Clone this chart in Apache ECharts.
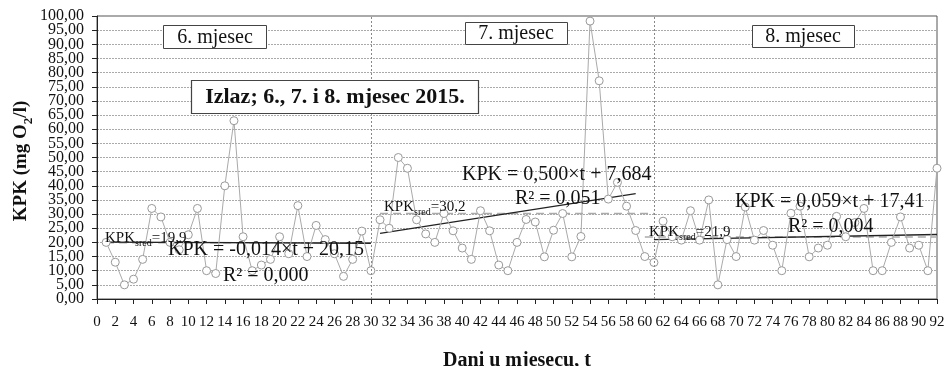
<!DOCTYPE html>
<html><head><meta charset="utf-8">
<script src="https://cdn.jsdelivr.net/npm/echarts@6/dist/echarts.min.js"></script>
<style>html,body{margin:0;padding:0;background:#fff}#c{width:944px;height:366px}</style>
</head><body><div id="c"></div>
<script>
// ---- data ----
const juneStart = 1;
const juneValues = [20, 13, 5, 7, 14, 32, 29, 20, 17.4, 22.7, 32, 10, 9, 40, 63, 22, 10, 12, 14, 22, 16, 33, 15, 26, 21, 16, 8, 14, 24, 10];
const julyStart = 31;
const julyValues = [28, 25, 50, 46.2, 28, 23, 20, 30.2, 24.1, 18, 14, 31.2, 24.1, 12, 10, 20, 28.1, 27.2, 14.9, 24.3, 30.2, 14.9, 22.1, 98.2, 77.1, 35.3, 41.2, 32.8, 24.2, 15, 12.9];
const augStart = 62;
const augValues = [27.5, 22, 20.8, 31.2, 20.8, 35, 5, 21, 15, 32.5, 20.8, 24.2, 19, 10, 30.3, 32.8, 14.9, 18, 19, 29.2, 22, 27, 32, 10, 10, 20, 29, 18, 19, 10, 46.2];
// trend line end points (day, KPK)
const juneTrend = [[1, 20.1], [30, 19.7]];
const julyTrend = [[31, 23.2], [59, 37.2]];
const augTrend = [[61, 21.0], [92, 22.8]];
// monthly mean lines (from, to, value)
const juneMean = [1, 30, 19.9];
const julyMean = [31, 61, 30.2];
const augMean = [60, 92, 21.9];
// month separators
const separators = [30, 61];
const xMin = 0, xMax = 92, xStep = 2;
const yMin = 0, yMax = 100, yStep = 5;

const FONT = '"Liberation Serif", "Times New Roman", serif';
function toPts(start, vals){ return vals.map((v,i)=>[start+i, v]); }
const allPts = toPts(juneStart, juneValues).concat(toPts(julyStart, julyValues), toPts(augStart, augValues));
function meanLine(m){ return [[m[0], m[2]], [m[1], m[2]]]; }

const chart = echarts.init(document.getElementById('c'));
const lineSeries = (data, color, width, type) => ({
  type: 'line', data, symbol: 'none', silent: true, z: 3,
  lineStyle: {color, width, type}
});
const textEl = (x, y, text, size, bold, align) => ({
  type: 'text', x, y, z: 100,
  style: {text, font: (bold ? 'bold ' : '') + size + 'px ' + FONT, fill: '#111', align: align || 'left', verticalAlign: 'middle'}
});
const boxEl = (x, y, w, h, lw) => ({
  type: 'rect', shape: {x, y, width: w, height: h}, z: 99,
  style: {fill: '#fff', stroke: '#444', lineWidth: lw || 1}
});
const subEl = (x, y, a, s, b) => ({
  type: 'text', x, y, z: 100,
  style: {
    text: '{a|' + a + '}{s|' + s + '}{a|' + b + '}', verticalAlign: 'middle',
    rich: {
      a: {font: '15px ' + FONT, fill: '#111', lineHeight: 18, verticalAlign: 'bottom'},
      s: {font: '10px ' + FONT, fill: '#111', lineHeight: 18, verticalAlign: 'bottom', padding: [0,0,-2,0]}
    }
  }
});
const yLabelFmt = v => v.toFixed(2).replace('.', ',');
const yLabelStyle = {fontFamily: FONT, fontSize: 16, color: '#111', margin: 13, hideOverlap: false, formatter: yLabelFmt};

chart.setOption({
  animation: false,
  backgroundColor: '#fff',
  grid: {left: 97, right: 7, top: 16, bottom: 67, show: true, borderColor: '#555', borderWidth: 1,
    outerBoundsMode: 'none', containLabel: false},
  xAxis: {
    type: 'value', min: xMin, max: xMax, interval: xStep,
    name: 'Dani u mjesecu, t', nameLocation: 'middle', nameGap: 52,
    nameTextStyle: {fontFamily: FONT, fontSize: 20, fontWeight: 'bold', color: '#111'},
    axisLine: {lineStyle: {color: '#222', width: 1}},
    axisTick: {show: true, length: 5, lineStyle: {color: '#222'}},
    axisLabel: {fontFamily: FONT, fontSize: 15, color: '#111', margin: 16, hideOverlap: false,
      showMinLabel: true, showMaxLabel: true},
    splitLine: {show: false}
  },
  yAxis: [{
    type: 'value', min: yMin, max: yMax, interval: yStep, position: 'left',
    axisLine: {show: true, lineStyle: {color: '#222', width: 1}},
    axisTick: {show: true, length: 5, lineStyle: {color: '#222'}},
    axisLabel: Object.assign({showMinLabel: false, showMaxLabel: false}, yLabelStyle),
    splitLine: {show: true, lineStyle: {color: '#aaa', width: 1, type: [2, 1]}}
  }, {
    type: 'value', min: yMin, max: yMax, interval: yMax - yMin, position: 'left', offset: 0,
    axisLine: {show: false},
    axisTick: {show: true, length: 5, lineStyle: {color: '#222'}},
    axisLabel: Object.assign({showMinLabel: true, showMaxLabel: true}, yLabelStyle),
    splitLine: {show: false}
  }],
  series: [
    lineSeries(meanLine(juneMean), '#aaa', 1.5, [8, 5]),
    lineSeries(meanLine(julyMean), '#aaa', 1.5, [8, 5]),
    lineSeries(meanLine(augMean), '#aaa', 1.5, [8, 5]),
    {
      type: 'line', data: allPts, z: 4, silent: true,
      symbol: 'circle', symbolSize: 8,
      itemStyle: {color: '#fff', borderColor: '#999', borderWidth: 1},
      lineStyle: {color: '#aaa', width: 1},
      markLine: {
        silent: true, symbol: 'none', label: {show: false},
        lineStyle: {color: '#888', type: [2, 2], width: 1},
        data: separators.map(s => ({xAxis: s}))
      }
    },
    lineSeries(juneTrend, '#222', 1.3, 'solid'),
    lineSeries(julyTrend, '#222', 1.3, 'solid'),
    lineSeries(augTrend, '#222', 1.3, 'solid')
  ],
  graphic: [
    boxEl(163.5, 25.5, 103, 23), textEl(215, 37.5, '6. mjesec', 20, false, 'center'),
    boxEl(465.5, 22.5, 102, 22), textEl(516, 34, '7. mjesec', 20, false, 'center'),
    boxEl(752.5, 25.5, 102, 22), textEl(803, 37, '8. mjesec', 20, false, 'center'),
    boxEl(191.5, 80.5, 287, 33, 1.2), textEl(335, 97.5, 'Izlaz; 6., 7. i 8. mjesec 2015.', 22, true, 'center'),
    subEl(105, 237, 'KPK', 'sred', '=19,9'),
    textEl(168, 250, 'KPK = -0,014×t + 20,15', 20),
    textEl(223, 276, 'R² = 0,000', 20),
    subEl(384, 206, 'KPK', 'sred', '=30,2'),
    textEl(462, 175, 'KPK = 0,500×t + 7,684', 20),
    textEl(515, 199, 'R² = 0,051', 20),
    subEl(649, 231, 'KPK', 'sred', '=21,9'),
    textEl(735, 202, 'KPK = 0,059×t + 17,41', 20),
    textEl(788, 227, 'R² = 0,004', 20),
    {
      type: 'text', x: 20, y: 161, rotation: Math.PI / 2, z: 100,
      style: {
        text: '{a|KPK (mg O}{s|2}{a|/l)}', align: 'center', verticalAlign: 'middle',
        rich: {
          a: {font: 'bold 19px ' + FONT, fill: '#111', lineHeight: 22, verticalAlign: 'bottom'},
          s: {font: 'bold 13px ' + FONT, fill: '#111', lineHeight: 22, verticalAlign: 'bottom', padding: [0,0,-4,0]}
        }
      }
    }
  ]
});
</script></body></html>
